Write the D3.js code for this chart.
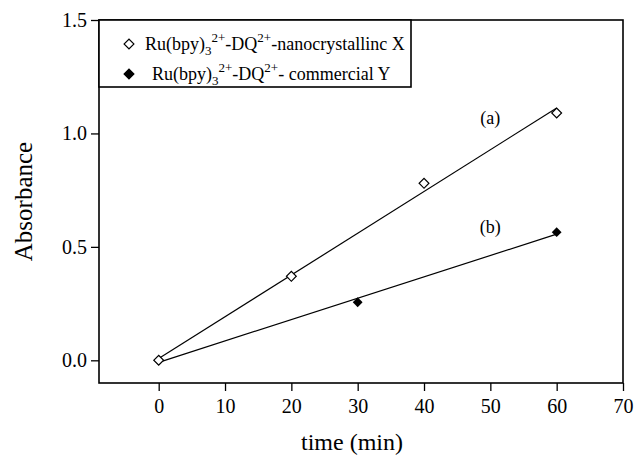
<!DOCTYPE html>
<html>
<head>
<meta charset="utf-8">
<script src="https://cdn.jsdelivr.net/npm/d3@7"></script>
<style>
  body { margin: 0; background: #fff; }
  svg { display: block; font-family: "Liberation Serif", "Times New Roman", serif; }
  .axis text { font-family: "Liberation Serif", "Times New Roman", serif; font-size: 20px; fill: #000; }
  .axis line { stroke: #000; stroke-width: 1.3; }
  .axis path { display: none; }
</style>
</head>
<body>
<div id="chart"></div>
<script>
// Series (a): nanocrystalline X, open diamonds
var timeA = [0, 20, 40, 60];
var absA = [0.0, 0.37, 0.78, 1.09];
// Series (b): commercial Y, filled diamonds
var timeB = [0, 30, 60];
var absB = [0.0, 0.256, 0.565];

var xTicks = [0, 10, 20, 30, 40, 50, 60, 70];
var yTicks = [0.0, 0.5, 1.0, 1.5];

var width = 638, height = 457;
var margin = {top: 20, right: 15, bottom: 74, left: 99};

var svg = d3.select('#chart').append('svg')
    .attr('width', width)
    .attr('height', height);

var x = d3.scaleLinear().domain([-9, 70]).range([margin.left, width - margin.right]);
var y = d3.scaleLinear().domain([-0.1, 1.5]).range([height - margin.bottom, margin.top]);

// least squares line through each series (drawn from first to last x)
function fitLine(xs, ys) {
    var n = xs.length;
    var mx = d3.mean(xs), my = d3.mean(ys);
    var sxy = 0, sxx = 0;
    for (var i = 0; i < n; i++) {
        sxy += (xs[i] - mx) * (ys[i] - my);
        sxx += (xs[i] - mx) * (xs[i] - mx);
    }
    var b = sxy / sxx, a = my - b * mx;
    var x0 = d3.min(xs), x1 = d3.max(xs);
    return [[x0, a + b * x0], [x1, a + b * x1]];
}

var line = d3.line()
    .x(function(d) { return x(d[0]); })
    .y(function(d) { return y(d[1]); });

// Axes
svg.append('g')
    .attr('class', 'axis')
    .attr('transform', 'translate(0,' + y(-0.1) + ')')
    .call(d3.axisBottom(x).tickValues(xTicks).tickSize(8).tickPadding(8)
        .tickFormat(d3.format('d')));

svg.append('g')
    .attr('class', 'axis')
    .attr('transform', 'translate(' + x(-9) + ',0)')
    .call(d3.axisLeft(y).tickValues(yTicks).tickSize(8).tickPadding(4)
        .tickFormat(d3.format('.1f')));

// Frame
svg.append('rect')
    .attr('x', x(-9))
    .attr('y', y(1.5))
    .attr('width', x(70) - x(-9))
    .attr('height', y(-0.1) - y(1.5))
    .attr('fill', 'none')
    .attr('stroke', '#000')
    .attr('stroke-width', 1.6);

// Fit lines
svg.append('path')
    .attr('d', line(fitLine(timeA, absA)))
    .attr('fill', 'none').attr('stroke', '#000').attr('stroke-width', 1.2);
svg.append('path')
    .attr('d', line(fitLine(timeB, absB)))
    .attr('fill', 'none').attr('stroke', '#000').attr('stroke-width', 1.2);

var diamond = d3.symbol().type(d3.symbolSquare).size(48);

svg.selectAll('.ptB')
    .data(timeB.map(function(t, i) { return [t, absB[i]]; }))
    .enter().append('path')
    .attr('class', 'ptB')
    .attr('d', diamond)
    .attr('transform', function(d) { return 'translate(' + x(d[0]) + ',' + y(d[1]) + ') rotate(45)'; })
    .attr('fill', '#000');

svg.selectAll('.ptA')
    .data(timeA.map(function(t, i) { return [t, absA[i]]; }))
    .enter().append('path')
    .attr('class', 'ptA')
    .attr('d', diamond)
    .attr('transform', function(d) { return 'translate(' + x(d[0]) + ',' + y(d[1]) + ') rotate(45)'; })
    .attr('fill', '#fff')
    .attr('stroke', '#000')
    .attr('stroke-width', 1.2);

// Curve labels
svg.append('text').attr('x', x(50)).attr('y', y(1.04)).attr('text-anchor', 'middle')
    .style('font-size', '18px').text('(a)');
svg.append('text').attr('x', x(50)).attr('y', y(0.56)).attr('text-anchor', 'middle')
    .style('font-size', '18px').text('(b)');

// Axis titles
svg.append('text')
    .attr('x', 352)
    .attr('y', 450)
    .attr('text-anchor', 'middle')
    .style('font-size', '24px')
    .text('time (min)');

svg.append('text')
    .attr('transform', 'translate(32,' + ((y(-0.1) + y(1.5)) / 2) + ') rotate(-90)')
    .attr('text-anchor', 'middle')
    .style('font-size', '25px')
    .text('Absorbance');

// Legend
var legend = svg.append('g');
legend.append('rect')
    .attr('x', x(-9)).attr('y', y(1.5))
    .attr('width', 312).attr('height', 67)
    .attr('fill', '#fff').attr('stroke', '#000').attr('stroke-width', 1.6);

var legendRows = [
    {open: true, cy: 44, tx: 145, tail: '-nanocrystallinc X', sup2: '2+'},
    {open: false, cy: 74, tx: 152, tail: '- commercial Y', sup2: '2+'}
];

legendRows.forEach(function(r) {
    legend.append('path')
        .attr('d', diamond)
        .attr('transform', 'translate(129,' + r.cy + ') rotate(45)')
        .attr('fill', r.open ? '#fff' : '#000')
        .attr('stroke', '#000')
        .attr('stroke-width', 1.2);
    var t = legend.append('text')
        .attr('x', r.tx).attr('y', r.cy + 6)
        .style('font-size', '18px');
    t.append('tspan').text('Ru(bpy)');
    t.append('tspan').attr('dy', 5).style('font-size', '13px').text('3');
    t.append('tspan').attr('dy', -13).style('font-size', '13px').text('2+');
    t.append('tspan').attr('dy', 8).text('-DQ');
    t.append('tspan').attr('dy', -8).style('font-size', '13px').text(r.sup2);
    t.append('tspan').attr('dy', 8).text(r.tail);
});
</script>
</body>
</html>
